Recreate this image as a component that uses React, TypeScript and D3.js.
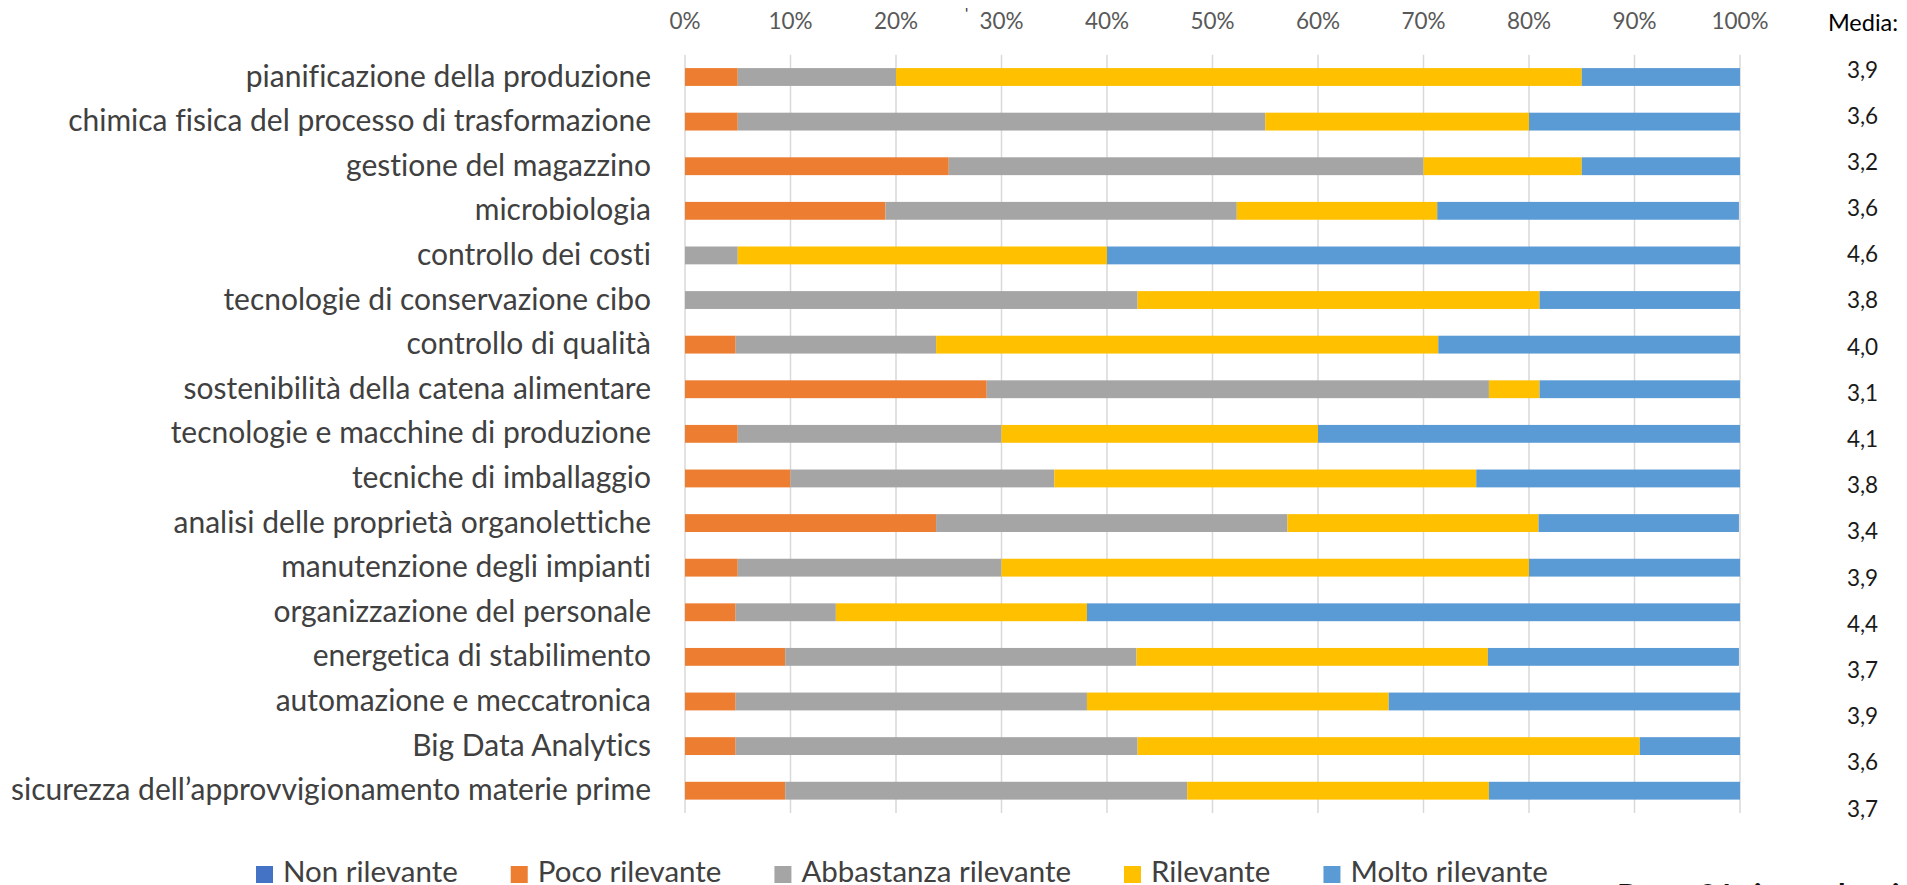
import React, { useEffect, useRef } from "react";
import * as d3 from "d3";

const categories = [
  "pianificazione della produzione",
  "chimica fisica del processo di trasformazione",
  "gestione del magazzino",
  "microbiologia",
  "controllo dei costi",
  "tecnologie di conservazione cibo",
  "controllo di qualità",
  "sostenibilità della catena alimentare",
  "tecnologie e macchine di produzione",
  "tecniche di imballaggio",
  "analisi delle proprietà organolettiche",
  "manutenzione degli impianti",
  "organizzazione del personale",
  "energetica di stabilimento",
  "automazione e meccatronica",
  "Big Data Analytics",
  "sicurezza dell’approvvigionamento materie prime",
];

const nonRilevante = [0, 0, 0, 0, 0, 0, 0, 0, 0, 0, 0, 0, 0, 0, 0, 0, 0];
const pocoRilevante = [5, 5, 25, 19.0, 0, 0, 4.8, 28.6, 5, 10, 23.8, 5, 4.8, 9.5, 4.8, 4.8, 9.5];
const abbastanzaRilevante = [15, 50, 45, 33.3, 5, 42.9, 19.0, 47.6, 25, 25, 33.3, 25, 9.5, 33.3, 33.3, 38.1, 38.1];
const rilevante = [65, 25, 15, 19.0, 35, 38.1, 47.6, 4.8, 30, 40, 23.8, 50, 23.8, 33.3, 28.6, 47.6, 28.6];
const moltoRilevante = [15, 20, 15, 28.6, 60, 19.0, 28.6, 19.0, 40, 25, 19.0, 20, 61.9, 23.8, 33.3, 9.5, 23.8];

const mediaValues = ["3,9", "3,6", "3,2", "3,6", "4,6", "3,8", "4,0", "3,1", "4,1", "3,8", "3,4", "3,9", "4,4", "3,7", "3,9", "3,6", "3,7"];

const seriesNames = ["Non rilevante", "Poco rilevante", "Abbastanza rilevante", "Rilevante", "Molto rilevante"];
const seriesColors = ["#4472C4", "#ED7D31", "#A5A5A5", "#FFC000", "#5B9BD5"];
const ticks = [0, 10, 20, 30, 40, 50, 60, 70, 80, 90, 100];

const W = 1907;
const H = 885;
const FONT = "Lato, 'Open Sans', sans-serif";

export default function App() {
  const ref = useRef<SVGSVGElement | null>(null);

  useEffect(() => {
    const svg = d3.select(ref.current);
    svg.selectAll("*").remove();

    const x = d3.scaleLinear().domain([0, 100]).range([685, 1740]);
    const y = d3
      .scaleBand<string>()
      .domain(categories)
      .range([54.7, 813])
      .paddingInner(0.6)
      .paddingOuter(0.3);
    const yMedia = d3.scalePoint<string>().domain(categories).range([69.5, 808.5]);

    svg.append("rect").attr("width", W).attr("height", H).attr("fill", "#ffffff");

    // gridlines
    svg
      .append("g")
      .selectAll("line")
      .data(ticks)
      .join("line")
      .attr("x1", (d) => x(d))
      .attr("x2", (d) => x(d))
      .attr("y1", 54.7)
      .attr("y2", 813)
      .attr("stroke", "#D9D9D9")
      .attr("stroke-width", 1.5);

    // tick labels
    svg
      .append("g")
      .selectAll("text")
      .data(ticks)
      .join("text")
      .attr("x", (d) => x(d))
      .attr("y", 29)
      .attr("text-anchor", "middle")
      .attr("font-family", FONT)
      .attr("font-size", 22.5)
      .attr("fill", "#595959")
      .text((d) => `${d}%`);

    // stray mark
    svg
      .append("text")
      .attr("x", 965)
      .attr("y", 19)
      .attr("font-family", FONT)
      .attr("font-size", 16)
      .attr("fill", "#333")
      .text("'");

    // stacked bars
    const rows = categories.map((c, i) => ({
      cat: c,
      s0: nonRilevante[i],
      s1: pocoRilevante[i],
      s2: abbastanzaRilevante[i],
      s3: rilevante[i],
      s4: moltoRilevante[i],
    }));
    const stack = d3.stack<any>().keys(["s0", "s1", "s2", "s3", "s4"]);
    const stacked = stack(rows);

    svg
      .append("g")
      .selectAll("g")
      .data(stacked)
      .join("g")
      .attr("fill", (_d, i) => seriesColors[i])
      .selectAll("rect")
      .data((d) => d)
      .join("rect")
      .attr("x", (d) => x(d[0]))
      .attr("width", (d) => Math.max(0, x(d[1]) - x(d[0])))
      .attr("y", (d) => y(d.data.cat) as number)
      .attr("height", y.bandwidth());

    // category labels
    svg
      .append("g")
      .selectAll("text")
      .data(categories)
      .join("text")
      .attr("x", 651)
      .attr("y", (d) => (y(d) as number) + y.bandwidth() / 2 + 9.5)
      .attr("text-anchor", "end")
      .attr("font-family", FONT)
      .attr("font-size", 30)
      .attr("fill", "#404040")
      .style("font-variant-ligatures", "none")
      .text((d) => d);

    // Media header + values
    svg
      .append("text")
      .attr("x", 1863)
      .attr("y", 31)
      .attr("text-anchor", "middle")
      .attr("font-family", FONT)
      .attr("font-size", 23.5)
      .attr("fill", "#000")
      .text("Media:");

    svg
      .append("g")
      .selectAll("text")
      .data(categories)
      .join("text")
      .attr("x", 1862.5)
      .attr("y", (d) => (yMedia(d) as number) + 8)
      .attr("text-anchor", "middle")
      .attr("font-family", FONT)
      .attr("font-size", 22.5)
      .attr("fill", "#1a1a1a")
      .text((_d, i) => mediaValues[i]);

    // legend
    const lg = svg.append("g");
    let cx = 256;
    seriesNames.forEach((name, i) => {
      lg.append("rect")
        .attr("x", cx)
        .attr("y", 866)
        .attr("width", 17)
        .attr("height", 17)
        .attr("fill", seriesColors[i]);
      const t = lg
        .append("text")
        .attr("x", cx + 27)
        .attr("y", 882)
        .attr("font-family", FONT)
        .attr("font-size", 29.5)
        .attr("fill", "#404040")
        .text(name);
      const w = (t.node() as SVGTextElement).getComputedTextLength();
      cx = cx + 27 + w + 53;
    });

    // base note (cut at bottom)
    svg
      .append("text")
      .attr("x", 1617)
      .attr("y", 906)
      .attr("font-family", FONT)
      .attr("font-size", 31)
      .attr("font-weight", "bold")
      .attr("fill", "#111")
      .text("Base: 21 rispondenti");
  }, []);

  return (
    <svg
      ref={ref}
      width={W}
      height={H}
      style={{ position: "fixed", left: 0, top: 0, display: "block" }}
    />
  );
}
